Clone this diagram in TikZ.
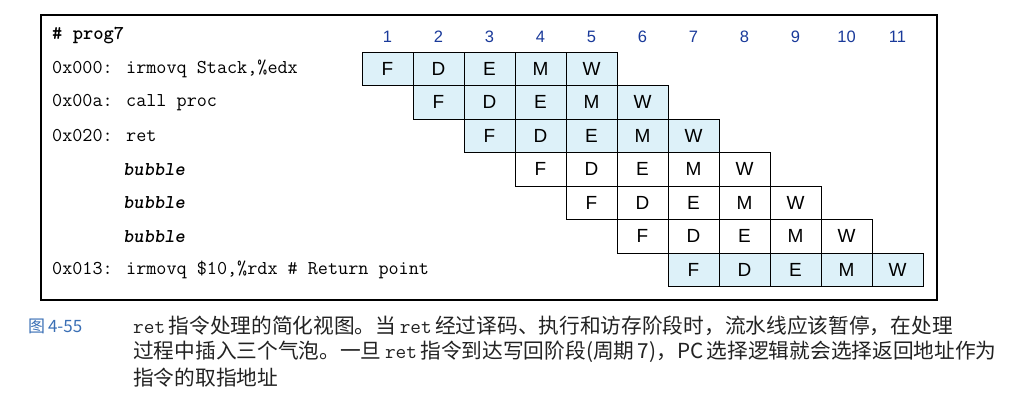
\documentclass[tikz,border=0pt]{standalone}
\usepackage{fontspec}
\setsansfont{Liberation Sans}
\newfontfamily\cjk{Noto Sans CJK SC}
\definecolor{cellblue}{HTML}{DDF1F9}
\definecolor{numblue}{HTML}{1A3A9A}
\definecolor{capblue}{HTML}{3A6FB5}
\definecolor{captext}{HTML}{222222}
\begin{document}
\begin{tikzpicture}[x=1pt,y=-1pt,
  cell/.style={draw=black, line width=0.9pt, minimum width=51pt, minimum height=33.5pt, inner sep=0pt, font=\sffamily\fontsize{19}{19}\selectfont},
  code/.style={anchor=west, inner sep=0pt, font=\ttfamily\fontsize{19.6}{20}\selectfont},
  bub/.style={code, font=\ttfamily\bfseries\itshape\fontsize{19.6}{20}\selectfont},
  num/.style={text=numblue, inner sep=0pt, font=\sffamily\fontsize{16.5}{16}\selectfont},
  captxt/.style={anchor=west, inner sep=0pt, text=captext, font=\cjk\fontsize{20.7}{20}\selectfont}]
\useasboundingbox (0,0) rectangle (1009,409);
\node[draw=black, line width=1.3pt, minimum width=896pt, minimum height=285pt, inner sep=0pt] (frame) at (489,157.5) {};
% header
\node[code, font=\ttfamily\bfseries\fontsize{19.6}{20}\selectfont] (hdr) at (52,36) {\# prog7};
\foreach \c in {1,...,11}{
  \pgfmathsetmacro\nx{362+25.5+(\c-1)*51}
  \node[num] (n\c) at (\nx,37) {\c};
}
% code lines
\node[code] (l1) at (52,68.75) {0x000: irmovq Stack,\%edx};
\node[code] (l2) at (52,102.25) {0x00a: call proc};
\node[code] (l3) at (52,135.75) {0x020: ret};
\node[bub] (l4) at (123,169.25) {bubble};
\node[bub] (l5) at (123,202.75) {bubble};
\node[bub] (l6) at (123,236.25) {bubble};
\node[code] (l7) at (52,269.75) {0x013: irmovq \$10,\%rdx \# Return point};
% pipeline cells
\foreach \r/\fl in {1/cellblue,2/cellblue,3/cellblue,4/white,5/white,6/white,7/cellblue}{
  \foreach \s [count=\k from 0] in {F,D,E,M,W}{
    \pgfmathsetmacro\cx{362+25.5+(\r-1+\k)*51}
    \pgfmathsetmacro\cy{52+(\r-0.5)*33.5}
    \node[cell, fill=\fl] (c\r\s) at (\cx,\cy) {\s};
  }
}
% caption
\node[anchor=west, inner sep=0pt, text=capblue, font=\cjk\fontsize{17}{17}\selectfont] (fig) at (28,326) {图\,4-55};
\node[captxt] (cap1) at (133,326) {{\ttfamily ret}\,指令处理的简化视图。当\,{\ttfamily ret}\,经过译码、执行和访存阶段时，流水线应该暂停，在处理};
\node[captxt] (cap2) at (133,352) {过程中插入三个气泡。一旦\,{\ttfamily ret}\,指令到达写回阶段(周期\,7)，PC\,选择逻辑就会选择返回地址作为};
\node[captxt] (cap3) at (133,378) {指令的取指地址};
\end{tikzpicture}
\end{document}
